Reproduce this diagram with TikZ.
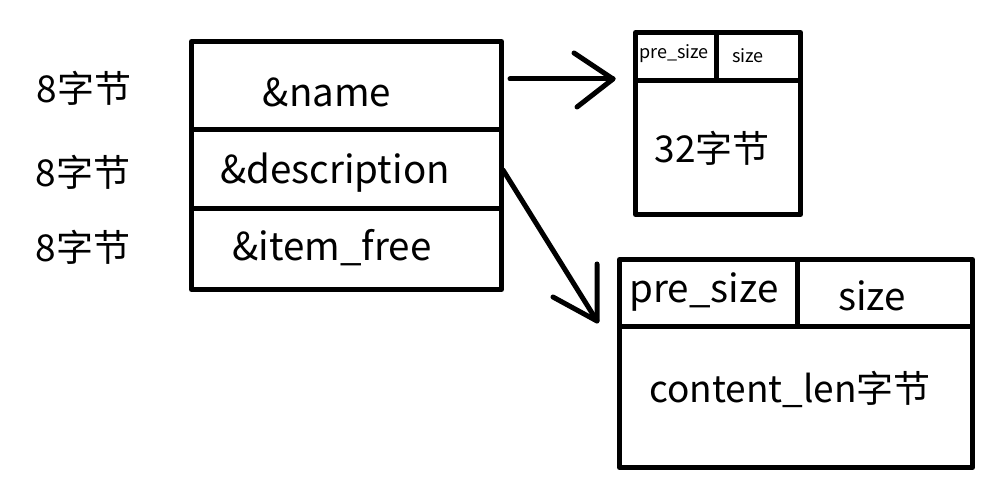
\documentclass[tikz,border=0pt]{standalone}
\usepackage{fontspec}
\setmainfont{Noto Sans CJK SC}
\begin{document}
\begin{tikzpicture}[x=1pt,y=-1pt,
  thick line/.style={line width=5pt,line cap=round,line join=round},
  cell/.style={draw,thick line,rectangle,inner sep=0pt,anchor=north west},
  big/.style={font=\fontsize{38.5}{42}\selectfont,inner sep=0pt},
  label/.style={font=\fontsize{37}{40}\selectfont,inner sep=0pt},
  small/.style={font=\fontsize{18}{20}\selectfont,inner sep=0pt}]
\useasboundingbox (0,0) rectangle (1001,494);
% left struct
\node[cell,minimum width=310pt,minimum height=88pt] (cname) at (189,39) {};
\node[cell,minimum width=310pt,minimum height=79pt] (cdesc) at (189,127) {};
\node[cell,minimum width=310pt,minimum height=81pt] (citem) at (189,206) {};
\node[big] (tname) at (327,92) {\&name};
\node[big] (tdesc) at (335,173) {\&description};
\node[big] (titem) at (332,248) {\&item\_free};
\node[label] (l1) at (84,88) {8字节};
\node[label] (l2) at (83,172) {8字节};
\node[label] (l3) at (83,247) {8字节};
% top right block
\node[cell,minimum width=81pt,minimum height=48pt] (apre) at (633,30) {};
\node[cell,minimum width=84pt,minimum height=48pt] (asize) at (714,30) {};
\node[cell,minimum width=165pt,minimum height=134pt] (abody) at (633,78) {};
\node[small] (tapre) at (674,54) {pre\_size};
\node[small] (tasize) at (748,56) {size};
\node[label] (tabody) at (712,148) {32字节};
% bottom right block
\node[cell,minimum width=178pt,minimum height=67pt] (bpre) at (617,257) {};
\node[cell,minimum width=175pt,minimum height=67pt] (bsize) at (795,257) {};
\node[cell,minimum width=353pt,minimum height=141pt] (bbody) at (617,324) {};
\node[big] (tbpre) at (704,292) {pre\_size};
\node[big] (tbsize) at (872,296) {size};
\node[label] (tbbody) at (790,389) {content\_len字节};
% arrows
\coordinate (s1) at (510,79);
\coordinate (t1) at (613,79);
\coordinate (a1u) at (574,53);
\coordinate (a1d) at (577,107);
\draw[thick line] (s1) -- (t1);
\draw[thick line] (a1u) -- (t1) -- (a1d);
\coordinate (s2) at (503,170);
\coordinate (t2) at (597,321);
\coordinate (a2u) at (597,264);
\coordinate (a2l) at (553,297);
\draw[thick line] (s2) -- (t2);
\draw[thick line] (a2u) -- (t2) -- (a2l);
\end{tikzpicture}
\end{document}
